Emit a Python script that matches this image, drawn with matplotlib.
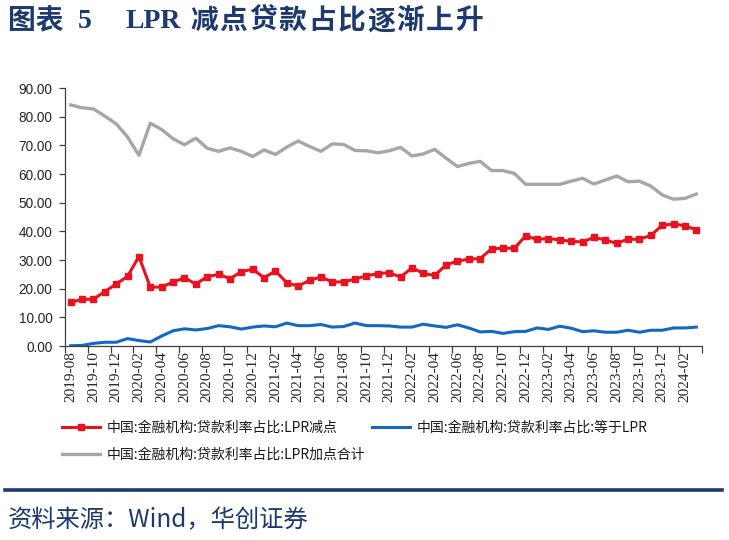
import pandas as pd
import matplotlib.pyplot as plt
from matplotlib.lines import Line2D

plt.rcParams['font.family'] = ['Noto Sans CJK SC', 'DejaVu Sans']

# 月度数据: 2019-08 ~ 2024-03
months = pd.period_range('2019-08', '2024-03', freq='M').strftime('%Y-%m').tolist()

# 贷款利率占比: LPR减点
lpr_minus = [15.2, 16.3, 16.3, 19.0, 21.6, 24.3, 31.2, 20.5, 20.6, 22.3,
             23.8, 21.6, 24.2, 25.0, 23.5, 25.9, 26.8, 23.8, 26.2, 22.0,
             20.9, 22.9, 24.1, 22.3, 22.4, 23.3, 24.5, 25.2, 25.6, 24.0,
             27.3, 25.3, 24.6, 28.3, 29.6, 30.3, 30.5, 33.9, 34.1, 34.1,
             38.4, 37.2, 37.5, 37.0, 36.5, 36.3, 37.9, 37.0, 35.8, 37.3,
             37.2, 38.6, 42.1, 42.6, 41.9, 40.6]
# 贷款利率占比: 等于LPR
lpr_equal = [0.1, 0.2, 0.9, 1.3, 1.3, 2.6, 1.9, 1.4, 3.5, 5.3,
             6.0, 5.6, 6.1, 7.1, 6.7, 5.9, 6.6, 7.0, 6.7, 8.0,
             7.1, 7.1, 7.5, 6.6, 6.8, 8.0, 7.1, 7.1, 7.0, 6.6,
             6.6, 7.6, 7.0, 6.5, 7.4, 6.3, 4.9, 5.1, 4.4, 5.0,
             5.1, 6.3, 5.8, 6.9, 6.2, 5.0, 5.3, 4.8, 4.8, 5.5,
             4.8, 5.5, 5.5, 6.3, 6.3, 6.6]
# 贷款利率占比: LPR加点合计
lpr_plus = [84.1, 83.1, 82.7, 80.2, 77.5, 72.9, 66.5, 77.7, 75.5, 72.3,
            70.2, 72.5, 69.0, 67.9, 69.1, 67.9, 66.1, 68.4, 66.8, 69.4,
            71.5, 69.6, 67.9, 70.5, 70.3, 68.2, 68.1, 67.4, 68.1, 69.3,
            66.3, 67.0, 68.6, 65.5, 62.6, 63.7, 64.4, 61.2, 61.2, 60.2,
            56.4, 56.4, 56.4, 56.4, 57.5, 58.5, 56.5, 57.9, 59.3, 57.3,
            57.5, 55.8, 52.7, 51.2, 51.5, 53.0]

labels = ['中国:金融机构:贷款利率占比:LPR减点',
          '中国:金融机构:贷款利率占比:等于LPR',
          '中国:金融机构:贷款利率占比:LPR加点合计']

navy = '#1C3A70'
W, H = 729, 540

fig = plt.figure(figsize=(7.29, 5.4), dpi=100)
ax = fig.add_axes([65 / W, 1 - 346 / H, (702 - 65) / W, (346 - 88) / H])

x = list(range(len(months)))
l_red, = ax.plot(x, lpr_minus, color='#E8131F', lw=2.2, marker='s', markersize=4.0)
l_blue, = ax.plot(x, lpr_equal, color='#1269C4', lw=2.2)
l_gray, = ax.plot(x, lpr_plus, color='#A6A6A6', lw=2.4)

ax.set_xlim(-0.5, len(months) - 0.5)
ax.set_ylim(0, 90)
ax.set_yticks(range(0, 91, 10))
ax.set_yticklabels(['%.2f' % v for v in range(0, 91, 10)],
                   family='Liberation Sans', fontsize=9.8, color='#262626')

# x轴: 标签每两个月, 刻度线在类别之间
ax.set_xticks(x[::2])
ax.set_xticklabels(months[::2], rotation=90, family='Liberation Serif',
                   fontsize=11, color='#262626')
ax.set_xticks([i - 0.5 for i in range(0, len(months) + 1, 2)], minor=True)
ax.tick_params(axis='x', which='major', length=0, pad=4)
ax.tick_params(axis='x', which='minor', length=5, width=0.9, direction='out', color='#404040')
ax.tick_params(axis='y', length=4, width=0.9, direction='out', color='#404040', pad=5)

for s in ['top', 'right']:
    ax.spines[s].set_visible(False)
for s in ['left', 'bottom']:
    ax.spines[s].set_color('#404040')
    ax.spines[s].set_linewidth(0.9)

# 图例 - 手动放置
def add_legend(handle, text, px, py):
    fig.legend([handle], [text], loc='center left',
               bbox_to_anchor=(px / W, 1 - py / H), frameon=False,
               borderpad=0, borderaxespad=0, handlelength=2.7,
               handletextpad=0.5, fontsize=10, labelcolor='#1a1a1a')

add_legend(l_red, labels[0], 62, 428)
add_legend(l_blue, labels[1], 372, 428)
add_legend(l_gray, labels[2], 62, 455)

# 标题
ty = 1 - 21 / H
fig.text(8 / W, ty, '图表', fontsize=20, weight='bold', color=navy, ha='left', va='center')
fig.text(78 / W, ty, '5', fontsize=20, weight='bold', color=navy, ha='left', va='center',
         family='Liberation Serif')
fig.text(125 / W, ty, 'LPR', fontsize=20, weight='bold', color=navy, ha='left', va='center',
         family='Liberation Serif')
for k, ch in enumerate('减点贷款占比逐渐上升'):
    fig.text((190 + k * 29.5) / W, ty, ch, fontsize=20, weight='bold', color=navy,
             ha='left', va='center')

# 底部分隔线及资料来源
fig.add_artist(Line2D([5 / W, 722 / W], [1 - 490 / H] * 2, lw=2.6, color=navy))
fig.text(8 / W, 1 - 520 / H, '资料来源：Wind，华创证券', fontsize=17.5, color=navy,
         style='italic', ha='left', va='center')

fig.savefig('out.png', dpi=100)
